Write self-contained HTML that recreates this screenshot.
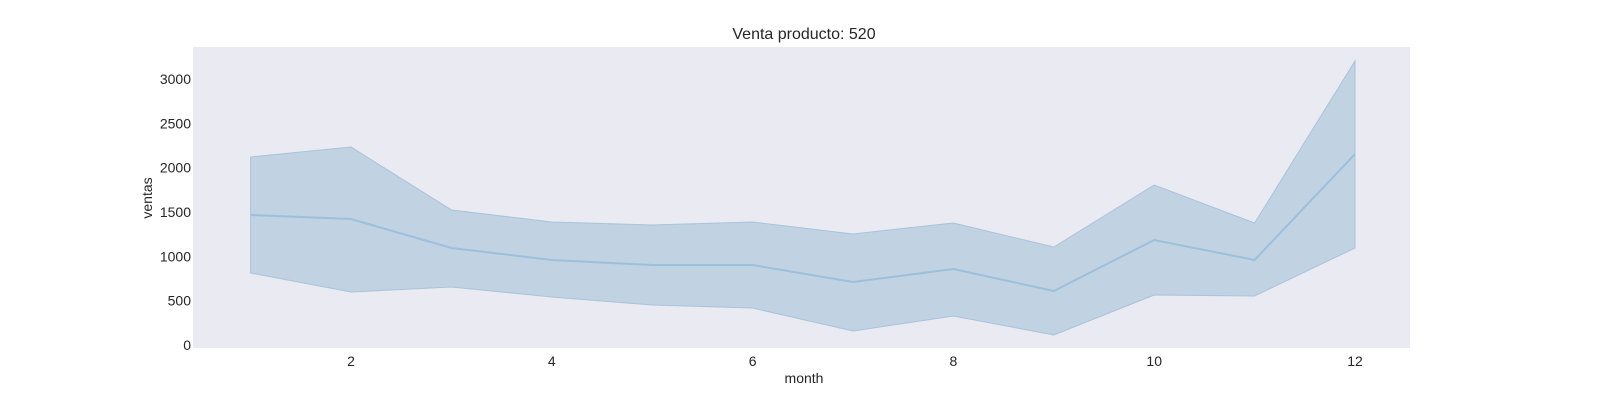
<!DOCTYPE html>
<html><head><meta charset="utf-8"><style>
body{margin:0;background:#fff;font-family:"Liberation Sans",sans-serif;}
svg text{font-family:"Liberation Sans",sans-serif;fill:#262626;}
</style></head><body>
<svg width="1600" height="400" xmlns="http://www.w3.org/2000/svg">
<rect x="193" y="47" width="1217" height="301" fill="#eaeaf2"/>
<text x="804" y="39" font-size="16" text-anchor="middle">Venta producto: 520</text>
<g id="band"></g><g id="line"></g><g id="xt"></g><g id="yt"></g>
<text x="804" y="383" font-size="14" text-anchor="middle">month</text>
<text transform="translate(152,198) rotate(-90)" font-size="14" text-anchor="middle">ventas</text>
</svg>
<script>
const months=[1,2,3,4,5,6,7,8,9,10,11,12];
const meanVals=[1466,1421,1094,959,902,902,710,857,609,1184,959,2154];
const upperVals=[2120,2233,1523,1387,1353,1387,1252,1376,1105,1804,1376,3203];
const lowerVals=[812,598,654,541,451,417,158,327,113,564,553,1094];
const xTicks=[2,4,6,8,10,12];
const yTicks=[0,500,1000,1500,2000,2500,3000];
const NS="http://www.w3.org/2000/svg";
const xs=m=>250.6+(m-1)*100.4;
const ys=v=>345-v*0.08867;
function mk(t,a,p){const e=document.createElementNS(NS,t);for(const k in a)e.setAttribute(k,a[k]);document.getElementById(p).appendChild(e);return e;}
let d=months.map((m,i)=>(i?'L':'M')+xs(m)+','+ys(upperVals[i])).join('');
for(let i=months.length-1;i>=0;i--)d+='L'+xs(months[i])+','+ys(lowerVals[i]);
const band=mk('path',{d:d+'Z',fill:'#c1d2e3',stroke:'#a9c3db','stroke-width':1},'band');


const ln=mk('path',{d:months.map((m,i)=>(i?'L':'M')+xs(m)+','+ys(meanVals[i])).join(''),fill:'none',stroke:'#9dbfdc','stroke-width':2},'line');


xTicks.forEach(t=>{const e=mk('text',{x:xs(t),y:366,'font-size':14,'text-anchor':'middle'},'xt');e.textContent=t;

});
yTicks.forEach(t=>{const e=mk('text',{x:191,y:ys(t)+5,'font-size':14,'text-anchor':'end'},'yt');e.textContent=t;

});
</script>
</body></html>
